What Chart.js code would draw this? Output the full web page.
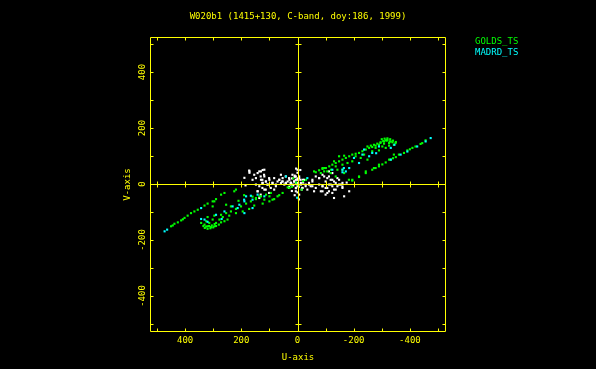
<!DOCTYPE html>
<html lang="en">
<head>
<meta charset="UTF-8">
<title>W020b1 uv coverage</title>
<script src="https://cdn.jsdelivr.net/npm/chart.js"></script>
<style>
    body {
        margin: 0;
        background-color: #000000;
    }
    .chart-container {
        position: relative;
        width: 596px;
        height: 369px;
    }
</style>
</head>
<body>
<div class="chart-container"><canvas id="uvCanvas"></canvas></div>
<script>
const titleText = 'W020b1 (1415+130, C-band, doy:186, 1999)';
const xTitle = 'U-axis';
const yTitle = 'V-axis';
const axisMin = -525;
const axisMax = 525;
const minorTicks = [-500, -400, -300, -200, -100, 0, 100, 200, 300, 400, 500];
const labelTicks = [-400, -200, 0, 200, 400];

// GOLDS_TS baselines (u, v)
const goldsPoints = [
    [-456,156],[-444,146],[-438,143],[-420,134],[-409,129],[-400,124],[-391,120],[-379,111],[-361,105],[-350,96],
    [-340,92],[-332,87],[-314,77],[-302,70],[-290,63],[-278,57],[-266,51],[-243,39],[-219,25],[-195,12],
    [-320,158],[-308,152],[-296,149],[-326,146],[-338,149],[-349,146],[-284,144],[-272,140],[-261,137],[-249,134],
    [-255,129],[-278,129],[-302,134],[-326,137],[-314,129],[-290,120],[-266,117],[-243,123],[-231,117],[-219,111],
    [-207,108],[-195,105],[-184,99],[-172,93],[-160,87],[-148,81],[-136,75],[-124,69],[-113,63],[-101,57],
    [-89,54],[-77,49],[-65,42],[-195,81],[-178,75],[-160,69],[-136,63],[-119,51],[-95,45],[-83,39],
    [-130,81],[-148,99],[-166,101],[-207,99],[-225,93],[-249,87],[-237,105],
    [-314,156],[-332,152],[-290,140],[-343,140],[-308,144],[-278,137],[-266,132],
    [-300,160],[-310,162],[-320,163],[-330,160],[-305,153],[-318,155],[-328,152],[-295,147],[-340,155],[-350,150],
    [-290,69],[-272,57],[-243,45],[-219,27],[-195,15],[-326,87],[-343,105],[-59,45],[-89,57],[-160,51],[-136,27],
    [-95,57],[-106,45],[-142,51],[-166,39],[-183,15],[-118,39],
    [15,20],[5,5],[-5,-5],[-15,-20],[20,-10],[-20,10],[-30,15],[35,-12],[29,-14],
    [450,-151],[438,-142],[426,-137],[414,-130],[402,-121],[391,-113],[379,-104],[367,-98],[355,-92],[331,-77],
    [320,-70],[302,-62],[290,-54],[272,-38],[225,-26],[219,-20],[444,-148],[408,-126],[260,-32],
    [343,-139],[331,-145],[320,-151],[308,-154],[296,-151],[314,-139],[290,-139],[272,-137],[260,-133],[249,-127],
    [278,-127],[302,-127],[325,-133],[320,-118],[296,-113],[272,-110],[254,-104],[237,-98],[219,-89],[201,-80],
    [183,-70],[166,-62],[148,-54],[130,-44],[112,-38],[95,-32],[83,-54],[100,-62],[124,-70],[154,-77],
    [172,-89],[195,-98],[219,-104],[243,-113],[266,-118],[237,-80],[254,-74],[302,-80],[296,-62],
    [300,-155],[310,-158],[320,-160],[330,-157],[290,-150],[305,-148],[315,-150],[325,-152],[335,-150],[280,-145],[295,-143],
    [190,-40],[160,-45],[210,-60],[65,-40],
    [148,-50],[136,-44],[118,-56],[100,-44],[89,-56],[71,-44],[53,-32]
];

// MADRD_TS baselines (u, v)
const madrdPoints = [
    [-474,164],[-456,152],[-426,134],[-391,116],[-367,105],[-332,87],[-266,111],[-255,99],[-231,105],[-219,75],
    [-184,57],[-160,42],[-237,123],[-290,134],[-332,129],[-201,93],[-124,51],[-165,57],[-345,140],[-280,110],
    [-160,51],[-172,45],[-35,21],
    [473,-169],[464,-163],[343,-86],[343,-125],[331,-127],[290,-110],[260,-98],[231,-80],[207,-74],[189,-62],
    [166,-42],[142,-38],[118,-44],[189,-104],[213,-86],[160,-86],[190,-56],[1,-49],[41,27],[320,-135],[270,-125],
    [183,-44],[160,-56]
];

// remaining baselines, drawn in white
const otherPoints = [
    [172,48],[154,33],[148,21],[142,39],[136,45],[131,27],[125,15],[119,33],[113,9],[107,-2],
    [101,21],[95,-14],[125,-14],[131,-38],[136,-50],[142,-26],[148,-2],[125,4],[113,-20],[101,-32],
    [89,4],[83,-20],[77,-8],[65,15],[54,9],[42,4],[30,21],[24,-2],[18,33],[12,9],
    [6,15],[0,-8],[-6,27],[-12,4],[-17,-14],[-23,15],[-29,-2],[-41,4],[-47,-8],[-53,9],
    [42,27],[30,-14],[6,-26],[-6,-38],[-77,21],[-89,33],[-100,9],[-112,27],[-118,-2],[-124,15],
    [-130,-20],[-136,4],[-142,-8],[-112,-26],[-100,-38],[-106,-14],[-89,-8],[-83,-26],[-148,15],[-154,-2],
    [-160,-14],[-124,39],[-112,45],
    [20,20],[10,25],[0,20],[-10,15],[25,5],[15,-5],[5,-15],[-5,-10],[-15,-20],[20,-25],
    [0,-30],[10,30],[-20,5],[30,-10],[0,40],[-10,50],[10,-40],[5,55],[-5,-55],
    [189,22],[171,40],[124,50],[-160,-9],[-184,-26],[-175,5],[185,-5],
    [171,45],[160,15],[130,15],[124,4],[118,27],[112,9],[106,-2],[100,15],[89,4],[83,21],
    [77,-2],[71,9],[65,15],[59,4],[53,9],[47,-2],[41,4],[35,9],[29,15],[23,4],
    [17,-2],[12,9],[6,4],[0,15],[136,-8],[118,-20],[142,-26],[53,21],[59,33],[130,45],[118,51],[0,51],
    [6,27],[-6,21],[-18,15],[0,4],[-12,-2],[6,-14],[-18,-14],[-29,-8],[-41,-2],[-53,-8],
    [-65,-14],[-77,-2],[-89,-8],[-100,-14],[-112,-2],[-124,-8],[-130,9],[-136,-20],[-142,21],[-118,15],
    [-106,21],[-95,27],[-77,21],[-65,27],[-53,15],[-124,-32],[-106,-32],[-148,-2],[-160,4],[-166,-44],
    [-130,-50],[-89,-26],[-59,-26],[-35,-20]
];

const toXY = pts => pts.map(p => ({ x: p[0], y: p[1] }));

const pgFrame = {
    id: 'pgFrame',
    afterDatasetsDraw(chart) {
        const { ctx, chartArea: a, scales: { x, y } } = chart;
        const x0 = Math.round(x.getPixelForValue(0)) + 0.5;
        const y0 = Math.round(y.getPixelForValue(0)) + 0.5;
        const L = Math.round(a.left) + 0.5, R = Math.round(a.right) + 0.5;
        const T = Math.round(a.top) + 0.5, B = Math.round(a.bottom) + 0.5;
        ctx.save();
        ctx.strokeStyle = '#ffff00';
        ctx.lineWidth = 1;
        ctx.beginPath();
        ctx.rect(L, T, R - L, B - T);
        ctx.moveTo(x0, T); ctx.lineTo(x0, B);
        ctx.moveTo(L, y0); ctx.lineTo(R, y0);
        minorTicks.forEach(t => {
            const px = Math.round(x.getPixelForValue(t)) + 0.5;
            const py = Math.round(y.getPixelForValue(t)) + 0.5;
            ctx.moveTo(px, B); ctx.lineTo(px, B - 3);
            ctx.moveTo(px, T); ctx.lineTo(px, T + 3);
            ctx.moveTo(L, py); ctx.lineTo(L + 3, py);
            ctx.moveTo(R, py); ctx.lineTo(R - 3, py);
            ctx.moveTo(px, y0 - 3); ctx.lineTo(px, y0 + 3);
            ctx.moveTo(x0 - 3, py); ctx.lineTo(x0 + 3, py);
        });
        ctx.stroke();

        ctx.fillStyle = '#ffff00';
        ctx.font = '9px "DejaVu Sans Mono"';
        ctx.textAlign = 'center';
        ctx.textBaseline = 'middle';
        labelTicks.forEach(t => {
            ctx.fillText(String(t), x.getPixelForValue(t), B + 9);
        });
        labelTicks.forEach(t => {
            ctx.save();
            ctx.translate(L - 8, y.getPixelForValue(t));
            ctx.rotate(-Math.PI / 2);
            ctx.fillText(String(t), 0, 0);
            ctx.restore();
        });
        ctx.fillText(titleText, (L + R) / 2, 17);
        ctx.fillText(xTitle, (L + R) / 2, 358);
        ctx.save();
        ctx.translate(128, (T + B) / 2);
        ctx.rotate(-Math.PI / 2);
        ctx.fillText(yTitle, 0, 0);
        ctx.restore();

        ctx.textAlign = 'left';
        ctx.fillStyle = '#00ff00';
        ctx.fillText('GOLDS_TS', 475, 41.5);
        ctx.fillStyle = '#00ffff';
        ctx.fillText('MADRD_TS', 475, 52.5);
        ctx.restore();
    }
};

new Chart(document.getElementById('uvCanvas'), {
    type: 'scatter',
    data: {
        datasets: [
            { label: 'MADRD_TS', data: toXY(madrdPoints), backgroundColor: '#00ffff', order: 1 },
            { label: 'GOLDS_TS', data: toXY(goldsPoints), backgroundColor: '#00ff00', order: 2 },
            { label: 'other', data: toXY(otherPoints), backgroundColor: '#ffffff', order: 3 }
        ]
    },
    options: {
        responsive: true,
        maintainAspectRatio: false,
        animation: false,
        layout: { padding: { left: 150, right: 151, top: 37, bottom: 38 } },
        elements: { point: { pointStyle: 'rect', radius: 1.5, borderWidth: 0, hoverRadius: 1.5 } },
        scales: {
            x: { type: 'linear', min: axisMin, max: axisMax, reverse: true, display: false },
            y: { type: 'linear', min: axisMin, max: axisMax, display: false }
        },
        plugins: { legend: { display: false }, tooltip: { enabled: false } }
    },
    plugins: [pgFrame]
});
</script>
</body>
</html>
